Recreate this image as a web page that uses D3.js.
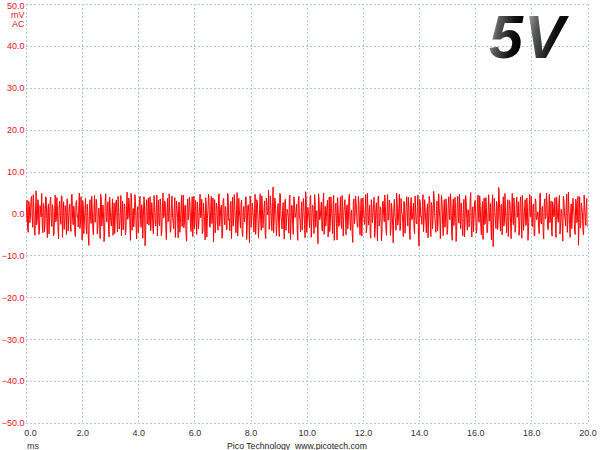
<!DOCTYPE html>
<html><head><meta charset="utf-8">
<script src="https://cdn.jsdelivr.net/npm/d3@7"></script>
<style>html,body{margin:0;padding:0;background:#fff;}svg{display:block;}</style>
</head><body>
<svg id="chart" width="600" height="450"></svg>
<script>
// ---- data ----
const timeDomain = [0, 20];          // ms
const voltDomain = [-50, 50];        // mV
const xTickValues = [0, 2, 4, 6, 8, 10, 12, 14, 16, 18, 20];
const yTickValues = [50, 40, 30, 20, 10, 0, -10, -20, -30, -40, -50];
const sampleStep = 0.02;             // ms between samples
// samples at t = 0, 0.04, 0.08 ... 20.00 ms
const samplesEven = [
-2.1,3.2,-4.5,1.8,-0.6,4.1,-3.3,0.9,-5.2,5.4,-1.7,2.6,-3.9,0.4,4.8,-4.6,1.5,-2.2,3.7,-5.8,
2.3,-0.9,3.9,-3.1,1.2,-4.7,4.4,-1.5,0.7,-6.1,2.9,-2.6,4.2,-0.3,-3.8,1.9,-5.0,3.4,-1.1,2.2,
-4.3,4.6,-2.7,0.8,-5.5,3.1,-0.4,1.6,-3.6,4.0,-6.3,2.0,-1.9,3.6,-4.9,0.2,-7.6,3.3,-2.4,1.1,
-5.1,4.3,-0.8,2.5,-3.4,1.3,-6.0,3.8,-1.3,0.5,-4.4,4.7,-2.0,2.8,-5.6,1.0,-3.0,3.5,-0.2,-4.8,
2.7,-1.6,4.1,-3.7,0.6,-5.3,3.0,-2.3,1.7,-4.0,5.1,-1.0,2.4,-6.4,3.9,-0.7,-3.2,4.5,-2.8,0.3,
-4.6,3.4,-1.4,2.1,-5.9,4.0,-7.7,1.4,-2.5,3.7,-0.5,-4.1,2.6,-3.5,4.3,-1.8,0.9,-5.4,3.2,-2.9,
1.8,-4.2,4.9,-0.6,2.3,-6.2,3.6,-1.2,0.1,-3.9,4.2,-2.1,1.5,-5.7,3.0,-0.9,2.7,-4.5,0.8,-3.1,
4.4,-2.6,1.9,-6.6,3.5,-0.3,2.2,-4.3,4.0,-1.7,-3.6,3.1,-5.0,1.2,-2.0,4.6,-0.4,-4.8,2.5,-1.5,
3.8,-5.6,0.7,2.9,-3.3,4.1,-1.1,-6.8,3.3,-2.2,1.6,-4.0,4.7,-0.8,2.0,-5.2,3.6,-2.7,0.5,-3.8,
4.3,-1.3,2.4,-6.0,3.9,-0.2,1.3,-4.6,5.0,-2.4,0.6,-3.5,3.2,-5.5,1.7,-1.0,4.0,-3.0,2.1,-7.0,
3.5,-0.7,1.0,-4.4,4.6,-2.0,2.8,-5.8,0.9,-1.6,4.2,-3.4,1.4,-4.9,3.7,-0.1,5.6,-2.9,2.3,-4.1,
6.3,-1.8,3.1,-5.3,1.1,-2.5,4.8,-0.6,-3.7,2.6,-6.1,3.4,-1.2,0.4,-4.7,4.4,-2.3,1.8,-5.0,3.0,
-0.8,2.2,-6.4,4.1,-1.5,0.3,-3.9,3.6,-2.6,5.2,-4.5,1.5,-0.9,3.8,-5.7,2.0,-2.1,4.5,-3.3,0.7,
-7.2,3.2,-1.0,2.7,-4.2,4.9,-0.5,-3.0,1.9,-5.6,3.9,-2.4,1.2,-4.8,4.3,-1.4,2.5,-6.3,0.6,-2.8,
4.0,-3.6,1.7,-0.4,3.3,-5.1,2.1,-1.9,4.6,-4.0,0.8,-6.9,3.5,-0.6,2.4,-3.2,4.1,-2.2,1.0,-5.4,
3.7,-1.1,0.2,-4.6,4.8,-2.7,2.0,-5.9,1.4,-0.3,3.9,-3.8,2.6,-6.5,4.2,-1.7,0.9,-4.3,3.0,-2.0,
1.6,-5.2,4.5,-0.9,2.3,-3.5,0.4,-7.0,3.4,-1.6,4.9,-2.8,1.1,-4.1,3.6,-0.2,-5.5,2.7,-2.3,4.0,
-3.0,1.5,-6.2,3.8,-1.3,2.5,-4.9,0.6,-2.5,4.4,-7.8,2.9,-0.7,1.9,-4.4,3.3,-1.8,0.5,-5.8,4.1,
-2.1,2.6,-3.7,5.3,-0.8,-4.5,3.0,-1.4,1.2,-6.0,4.3,-2.6,0.8,-3.3,3.5,-5.0,2.2,-0.5,4.7,-4.2,
1.3,-2.9,3.9,-6.7,2.0,-1.0,4.6,-3.6,0.3,-5.3,3.4,-1.9,2.8,-4.0,0.7,-2.4,5.0,-5.6,1.6,-0.6,
3.1,-4.7,2.4,-1.2,4.2,-3.1,0.9,-6.2,3.7,-2.0,1.4,-4.4,4.5,-0.4,-3.4,2.1,-7.9,3.6,-1.5,2.9,
-3.8,6.2,-0.9,1.8,-5.1,4.0,-2.2,0.6,-4.6,3.3,-1.0,2.5,-6.0,4.8,-2.7,1.0,-3.5,3.9,-0.1,-5.2,
2.6,-1.8,4.4,-4.0,1.5,-2.9,3.7,-6.4,0.8,-0.5,4.1,-3.2,2.2,-5.4,3.0,-1.3,0.4,-4.8,4.9,-2.5,
1.7,-6.1,3.5,-0.7,2.3,-3.9,4.6,-1.6,-4.3,2.8,-0.8,3.8,-5.7,1.3,-2.1,4.3,-3.0,0.9,-6.6,3.2,
-1.2,2.0,-4.5,5.1,-2.4,0.5,-3.6,3.6,-0.3,-5.0,2.7,-1.7,-7.6,4.0,-2.8,1.4,-4.1,4.4,-0.9,2.2,-3.3
];
// samples at t = 0.02, 0.06, 0.10 ... 19.98 ms
const samplesOdd = [
1.4,-3.8,2.9,-2.2,3.6,-1.0,4.5,-4.1,0.6,-2.7,3.3,-5.0,1.9,-0.8,-3.1,2.4,-4.4,4.0,-1.2,0.9,
-4.9,3.0,-1.6,2.1,-5.3,0.5,-2.0,3.8,-3.5,1.6,-0.4,4.2,-5.7,2.8,-1.9,0.3,3.5,-4.2,1.1,-2.6,
4.4,-1.1,1.8,-4.6,2.6,-0.7,-3.2,4.9,-2.3,-0.1,3.1,-4.8,0.8,-2.9,2.2,-5.6,1.5,-1.3,4.1,-3.6,
0.4,-2.1,3.4,-4.9,1.0,-1.5,4.6,-3.0,2.0,-6.7,2.7,-0.6,1.3,-3.8,3.9,-1.7,0.2,-5.2,2.5,-0.9,
3.2,-4.4,1.4,-2.6,4.3,-0.2,-3.9,2.3,-5.1,0.9,-1.4,3.7,-2.5,4.8,-4.0,1.2,-0.5,2.9,-6.1,1.7,
-2.2,4.1,-3.3,0.7,-0.9,2.8,-5.0,3.3,-1.0,-2.8,4.0,-1.7,0.5,-4.9,2.1,-3.0,4.4,-0.3,-2.4,3.5,
-5.3,1.6,-1.1,3.0,-3.4,0.1,-2.0,4.7,-4.5,2.2,-0.6,-3.6,3.8,-1.3,1.0,-5.8,2.6,-2.2,4.3,-0.8,
-3.4,2.0,-4.7,1.1,-1.5,3.9,-2.9,0.6,-5.5,4.1,-0.2,-2.1,2.7,-3.7,1.5,-1.0,3.4,-4.3,0.0,-6.3,
2.2,-1.2,4.6,-3.1,0.8,-2.4,3.7,-0.5,-4.6,2.5,-1.8,4.4,-3.0,1.3,-5.9,3.1,-0.9,1.7,-3.9,4.8,
-1.6,-4.1,2.9,-0.1,-3.0,4.5,-2.6,1.0,-5.4,3.6,-1.1,2.3,-4.5,0.6,-2.0,3.9,-6.2,1.9,-0.7,4.2,
-3.3,2.5,-1.9,0.2,-5.0,3.3,-0.6,-2.7,4.7,-4.0,1.2,-1.5,3.0,-6.0,2.1,-0.3,-3.8,4.2,-1.4,1.6,
-4.6,3.7,-0.4,-2.2,2.4,-5.5,4.6,-1.8,0.7,-3.2,2.9,-4.0,1.0,-0.9,3.6,-6.2,2.0,-2.7,4.0,-1.0,
0.6,-3.9,3.1,-1.2,-4.4,2.8,-0.3,1.4,-5.8,3.5,-2.0,0.1,-3.4,4.3,-1.7,1.9,-4.8,2.6,-0.6,-2.8,
4.7,-1.5,0.9,-3.6,2.3,-5.0,1.7,-0.7,3.2,-2.9,-4.3,4.0,-1.0,2.5,-6.4,1.3,-2.4,3.8,-3.1,0.4,
-1.9,4.3,-5.4,2.0,-0.8,1.5,-3.7,3.5,-1.6,0.3,-4.9,2.7,-2.5,4.1,-0.4,-3.3,2.2,-5.1,3.6,-1.1,
0.8,-2.6,4.5,-3.4,1.3,-0.5,-4.5,3.3,-2.2,2.1,-5.7,0.9,-1.4,3.9,-3.0,1.6,-6.5,2.8,-0.2,4.4,
-3.7,0.7,-1.6,3.2,-5.2,2.4,-2.9,1.1,-0.3,-4.0,3.0,-1.9,4.6,-3.5,0.4,-2.2,2.9,-4.7,1.4,-0.6,
3.9,-4.4,2.2,-1.5,0.5,-3.4,4.2,-2.1,1.6,-6.0,3.4,-0.8,-2.6,4.5,-1.3,0.8,-4.6,2.3,-1.8,3.1,
-5.5,1.8,-0.5,3.6,-2.8,1.0,-4.1,4.7,-1.1,-0.2,2.6,-5.3,3.3,-2.0,0.6,-3.9,4.0,-1.5,2.0,-6.4,
3.5,-0.9,1.2,-4.2,4.1,-2.3,-0.1,2.5,-3.7,1.8,-5.6,4.3,-1.2,0.9,-3.2,3.2,-2.8,1.0,-4.4,2.7,
-0.7,-3.5,4.4,-2.1,1.7,-5.1,2.9,-0.4,-2.6,3.8,-4.6,0.5,-1.8,2.4,-6.3,4.5,-1.0,0.2,-3.6,2.0,
-1.3,3.4,-4.2,2.2,-0.6,-3.0,4.8,-1.9,1.3,-5.5,3.1,-2.4,0.7,-1.2,3.7,-4.5,1.9,-0.9,2.8,-3.8,
4.0,-5.9,0.9,-1.7,3.3,-2.6,1.5,-4.0,4.6,-0.8,-2.9,2.1,-5.2,3.5,-1.5,0.3,-3.4,4.2,-2.0,1.1,
-4.1,2.4,-1.3,4.9,-3.3,0.6,-2.2,3.0,-5.4,1.5,-0.4,-3.7,3.9,-1.1,2.6,-4.9,1.0,-2.5,4.1,-0.2,
-3.0,4.6,-1.9,0.8,-5.7,2.3,-0.6,1.9,-4.2,3.4,-2.2,4.1,-1.4,-3.5,2.5,-0.1,-5.1,1.5,-2.9,3.6
];
const unitLabels = ["mV", "AC"];
const xUnit = "ms";
const footerText = "Pico Technology  www.picotech.com";
const rangeLabel = ["5", "V"];

// interleave the two sample sets into one time series (values unchanged)
const trace = [];
samplesEven.forEach((v, i) => {
  trace.push(v);
  if (i < samplesOdd.length) trace.push(samplesOdd[i]);
});

// ---- drawing ----
const svg = d3.select("#chart");
const plotL = 26, plotR = 587.5, plotT = 4, plotB = 423;
const x = d3.scaleLinear().domain(timeDomain).range([plotL, plotR]);
const y = d3.scaleLinear().domain(voltDomain).range([plotB, plotT]);
const font = "'Liberation Sans', Arial, sans-serif";
const gridColor = "#a9cde0";
const red = "#e8101a";

svg.append("rect").attr("width", 600).attr("height", 450).attr("fill", "#fff");

const defs = svg.append("defs");
const grad = defs.append("linearGradient").attr("id", "g5v")
  .attr("x1", "0").attr("y1", "0").attr("x2", "1").attr("y2", "0.35");
grad.append("stop").attr("offset", "0").attr("stop-color", "#cfcfcf");
grad.append("stop").attr("offset", "0.35").attr("stop-color", "#5a5a5a");
grad.append("stop").attr("offset", "0.75").attr("stop-color", "#111");
grad.append("stop").attr("offset", "1").attr("stop-color", "#000");
defs.append("clipPath").attr("id", "plotClip").append("rect")
  .attr("x", plotL).attr("y", plotT).attr("width", plotR - plotL).attr("height", plotB - plotT);

// grid
const grid = svg.append("g");
grid.selectAll("line.v").data(xTickValues).join("line")
  .attr("x1", d => Math.round(x(d)) + 0.5).attr("x2", d => Math.round(x(d)) + 0.5)
  .attr("y1", plotT).attr("y2", plotB)
  .attr("stroke", gridColor).attr("stroke-width", 1).attr("stroke-dasharray", "2,2");
grid.selectAll("line.h").data(yTickValues).join("line")
  .attr("y1", d => Math.round(y(d)) + 0.5).attr("y2", d => Math.round(y(d)) + 0.5)
  .attr("x1", plotL).attr("x2", plotR)
  .attr("stroke", gridColor).attr("stroke-width", 1).attr("stroke-dasharray", "2,2");

// big 5V label
const big = svg.append("g").attr("font-family", font).attr("font-weight", "bold")
  .attr("font-style", "italic").attr("font-size", 61);
big.append("text").attr("x", 489).attr("y", 58).attr("fill", "url(#g5v)").text(rangeLabel[0]);
big.append("text").attr("x", 524).attr("y", 58).attr("fill", "url(#g5v)").text(rangeLabel[1]);

// y axis labels
const yAxis = svg.append("g").attr("transform", `translate(${plotL - 1.5},0)`)
  .call(d3.axisLeft(y).tickValues(yTickValues).tickSize(0).tickFormat(d3.format(".1f")));
yAxis.select(".domain").remove();
yAxis.selectAll("text").attr("fill", red).attr("font-family", font).attr("font-size", 9).attr("x", 0);
yAxis.selectAll(".tick").filter(d => d === 50).select("text").attr("dy", "0.55em");

svg.selectAll("text.unit").data(unitLabels).join("text").attr("class", "unit")
  .attr("x", plotL - 1.5).attr("y", (d, i) => 18 + i * 9)
  .attr("text-anchor", "end").attr("fill", red).attr("font-family", font).attr("font-size", 9).text(d => d);

// x axis labels
const xAxis = svg.append("g").attr("transform", `translate(0,${plotB + 4})`)
  .call(d3.axisBottom(x).tickValues(xTickValues).tickSize(0).tickFormat(d3.format(".1f")));
xAxis.select(".domain").remove();
xAxis.selectAll("text").attr("fill", "#333").attr("font-family", font).attr("font-size", 9);
xAxis.selectAll(".tick").filter(d => d === 0).select("text").attr("dx", 4);

svg.append("text").attr("x", 27).attr("y", 449).attr("fill", "#333")
  .attr("font-family", font).attr("font-size", 9).text(xUnit);
svg.append("text").attr("x", 297).attr("y", 449).attr("text-anchor", "middle").attr("fill", "#222")
  .style("white-space", "pre")
  .attr("font-family", font).attr("font-size", 8.7).text(footerText);

// trace
const line = d3.line().x((d, i) => x(i * sampleStep)).y(d => y(d));
svg.append("path").datum(trace)
  .attr("clip-path", "url(#plotClip)")
  .attr("d", line).attr("fill", "none").attr("stroke", "#ff0000").attr("stroke-width", 1);
</script>
</body></html>
